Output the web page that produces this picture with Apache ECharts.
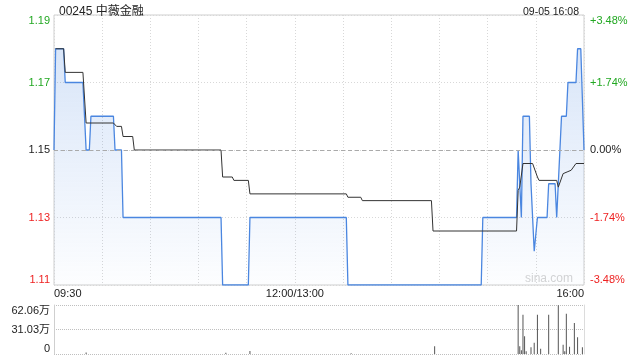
<!DOCTYPE html>
<html><head><meta charset="utf-8">
<script src="https://cdn.jsdelivr.net/npm/echarts@6/dist/echarts.min.js"></script>
<style>html,body{margin:0;padding:0;background:#fff}#c{width:640px;height:360px}</style>
</head><body><div id="c"></div>
<script>
// minute index from 09:30 (0) ... 12:00/13:00 (150) ... 16:00 (330)
const tickMinutes = [0, 150, 330];
const tickLabels = ['09:30', '12:00/13:00', '16:00'];
const stockTitle = '00245 中薇金融';
const stampText = '09-05 16:08';
const prevClose = 1.15;

const priceT = [0,1,6,7,18,20,22,23,37,38,42,43,104,105,121,122,182,183,266,267,288,289,290,291,292,296,297,298,299,300,301,307,308,312,313,316,319,320,325,326,328,330];
const priceV = [1.15,1.18,1.18,1.17,1.17,1.15,1.15,1.16,1.16,1.15,1.15,1.13,1.13,1.11,1.11,1.13,1.13,1.11,1.11,1.13,1.13,1.15,1.15,1.13,1.16,1.16,1.14,1.14,1.12,1.12,1.13,1.13,1.14,1.14,1.13,1.16,1.16,1.17,1.17,1.18,1.18,1.15];

const avgT = [1,6,7,18,20,37,39,42,43,49,50,104,105,111,112,121,122,182,183,191,192,235,236,288,289,290,292,298,301,302,313,314,315,317,320,322,325,330];
const avgV = [1.18,1.18,1.173,1.173,1.158,1.158,1.157,1.157,1.154,1.154,1.150,1.150,1.142,1.142,1.141,1.141,1.137,1.137,1.136,1.136,1.135,1.135,1.126,1.126,1.138,1.139,1.146,1.146,1.142,1.141,1.141,1.139,1.139,1.143,1.1436,1.144,1.146,1.146];

const volT = [20,107,122,185,237,289,290,291,292,293,294,297,299,301,303,308,314,317,318,319,321,324,326,329];
const volV = [20000,15000,38000,8000,97000,620600,97000,47000,498000,224000,34000,85000,143000,498000,68000,498000,616000,118000,34000,511000,93000,393000,211000,85000];

const priceMin = 1.11, priceMax = 1.19, priceStep = 0.02;
const volMax = 620600;

const GREEN = '#22a822', RED = '#ee2222', DARK = '#222';
function priceColor(v){ return v > prevClose + 1e-6 ? GREEN : (v < prevClose - 1e-6 ? RED : DARK); }
function pct(v){ const p = (v - prevClose) / prevClose * 100; const s = Math.abs(p) < 0.005 ? '0.00' : p.toFixed(2); return (p > 0.005 ? '+' : '') + s + '%'; }

const pricePts = priceT.map((t, i) => [t, priceV[i]]);
const avgPts = avgT.map((t, i) => [t, avgV[i]]);
const volPts = volT.map((t, i) => [t, volV[i]]);

const chart = echarts.init(document.getElementById('c'), null, {renderer: 'canvas'});
const font = 'Arial, "Liberation Sans", "Noto Sans CJK SC", sans-serif';
chart.setOption({
  animation: false,
  textStyle: {fontFamily: font},
  title: [
    {text: stockTitle, left: 54, top: 1, textStyle: {fontSize: 12, fontWeight: 'normal', color: '#222', fontFamily: font}},
    {text: stampText, right: 56, top: 2, textStyle: {fontSize: 10.5, fontWeight: 'normal', color: '#222', fontFamily: font}}
  ],
  graphic: [{type: 'text', right: 67, top: 273, style: {text: 'sina.com', fill: '#d4d4d4', font: '12px ' + font}}],
  grid: [
    {left: 54, right: 56, top: 15, height: 270, show: true, borderColor: '#cfcfcf', borderWidth: 1},
    {left: 54, right: 56, top: 305, height: 49}
  ],
  xAxis: [
    {gridIndex: 0, type: 'value', min: 0, max: 330, interval: 30,
     axisLine: {show: false}, axisTick: {show: false},
     splitLine: {show: true, lineStyle: {color: '#d8d8d8', type: [1, 2]}},
     axisLabel: {margin: 3, fontSize: 11, color: '#222', alignMinLabel: 'left', alignMaxLabel: 'right',
       formatter: v => { const k = tickMinutes.indexOf(v); return k >= 0 ? tickLabels[k] : ''; }}},
    {gridIndex: 1, type: 'value', min: 0, max: 330, show: true,
     axisLine: {show: false}, axisTick: {show: false}, axisLabel: {show: false}, splitLine: {show: false}}
  ],
  yAxis: [
    {gridIndex: 0, type: 'value', min: priceMin, max: priceMax, interval: priceStep,
     axisLine: {show: false}, axisTick: {show: false},
     splitLine: {show: true, lineStyle: {color: '#d8d8d8', type: [1, 2]}},
     axisLabel: {margin: 4, fontSize: 11, verticalAlignMinLabel: 'bottom', verticalAlignMaxLabel: 'top',
       formatter: v => v.toFixed(2), color: v => priceColor(+v)}},
    {gridIndex: 0, type: 'value', position: 'right', min: priceMin, max: priceMax, interval: priceStep,
     axisLine: {show: false}, axisTick: {show: false}, splitLine: {show: false},
     axisLabel: {margin: 6, fontSize: 11, verticalAlignMinLabel: 'bottom', verticalAlignMaxLabel: 'top',
       formatter: v => pct(v), color: v => priceColor(+v)}},
    {gridIndex: 1, type: 'value', min: 0, max: volMax, interval: volMax / 2,
     axisLine: {show: true, lineStyle: {color: '#cfcfcf'}}, axisTick: {show: false},
     splitLine: {show: true, lineStyle: {color: '#bfbfbf', type: [1, 1]}},
     axisLabel: {margin: 4, fontSize: 11, color: '#222', verticalAlignMinLabel: 'bottom', verticalAlignMaxLabel: 'top',
       formatter: v => v === 0 ? '0' : (v / 10000).toFixed(2) + '万'}},
    {gridIndex: 1, type: 'value', position: 'right', min: 0, max: volMax,
     axisLine: {show: true, lineStyle: {color: '#dcdcdc'}}, axisTick: {show: false}, axisLabel: {show: false}, splitLine: {show: false}}
  ],
  series: [
    {type: 'line', xAxisIndex: 0, yAxisIndex: 0, data: pricePts, symbol: 'none', z: 3,
     lineStyle: {color: '#4a86e0', width: 1.3},
     areaStyle: {origin: 'start', color: new echarts.graphic.LinearGradient(0, 0, 0, 1, [
       {offset: 0, color: 'rgba(74,134,224,0.30)'}, {offset: 1, color: 'rgba(74,134,224,0.02)'}])},
     markLine: {silent: true, symbol: 'none', label: {show: false},
       lineStyle: {color: '#aaaaaa', type: [4, 3], width: 1}, data: [{yAxis: prevClose}]}},
    {type: 'line', xAxisIndex: 0, yAxisIndex: 0, data: avgPts, symbol: 'none', z: 4,
     lineStyle: {color: '#333333', width: 1}},
    {type: 'bar', xAxisIndex: 1, yAxisIndex: 2, data: volPts, barWidth: 1,
     itemStyle: {color: '#555555'}}
  ]
});
</script></body></html>
